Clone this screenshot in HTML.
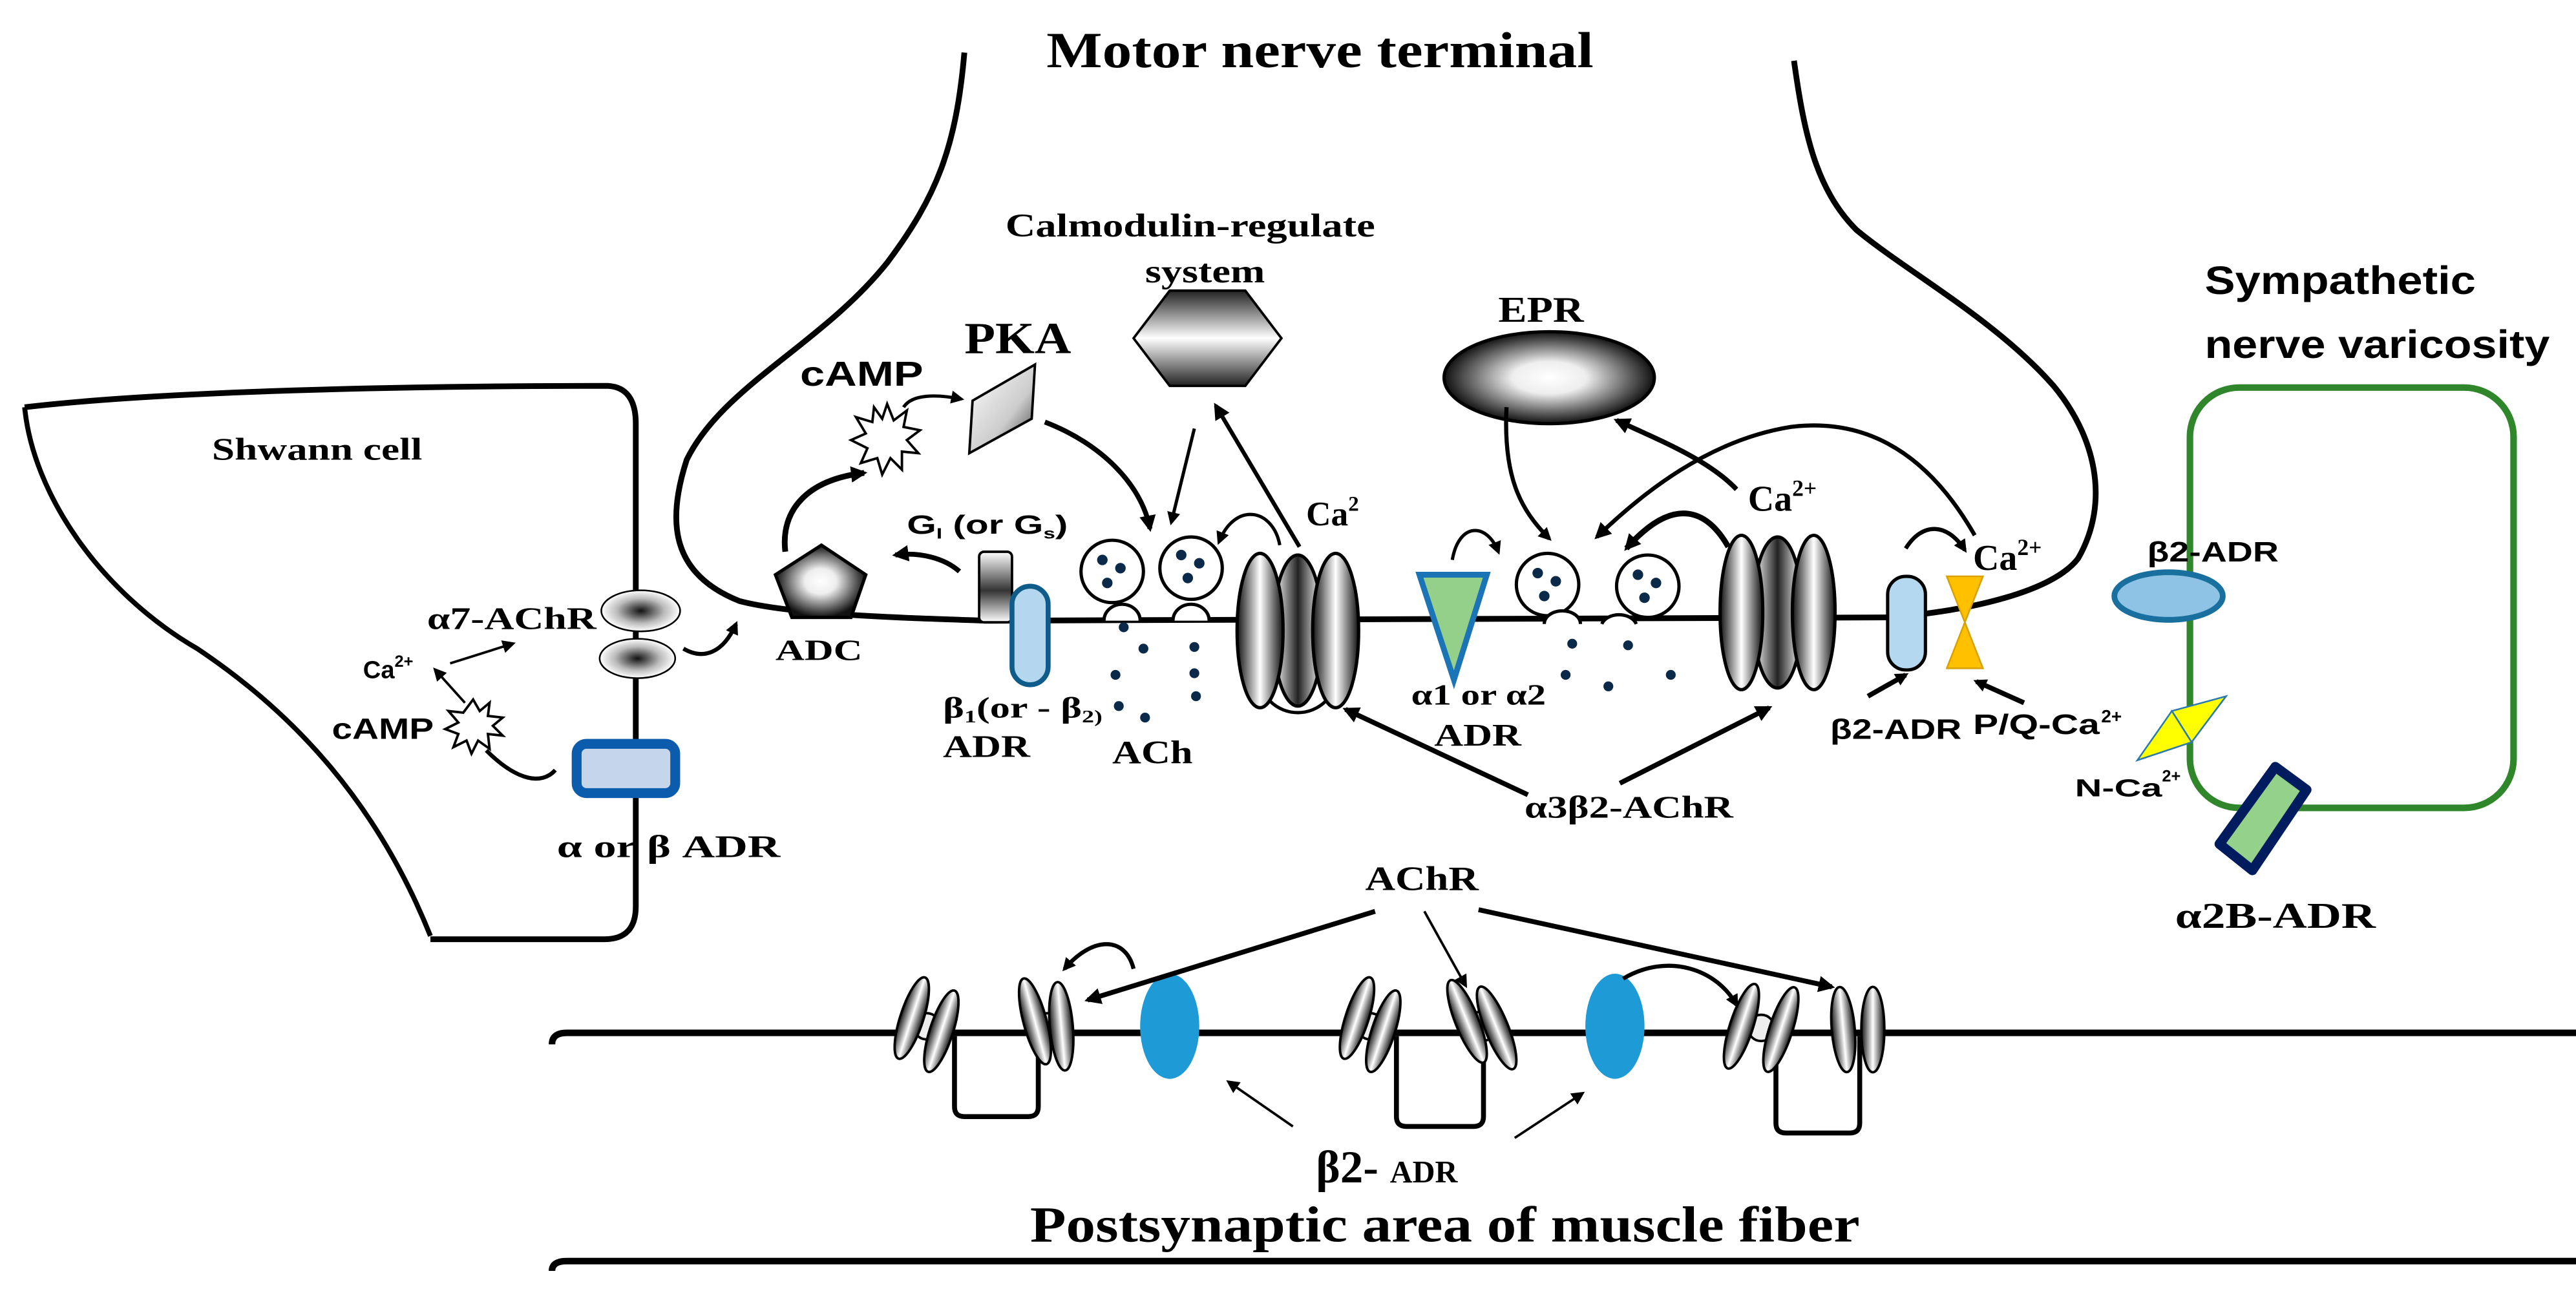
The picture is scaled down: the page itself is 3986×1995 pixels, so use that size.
<!DOCTYPE html>
<html><head><meta charset="utf-8"><style>
html,body{margin:0;padding:0;background:#fff}
svg{display:block}
.s{font-family:"Liberation Serif",serif;font-weight:bold}
.a{font-family:"Liberation Sans",sans-serif;font-weight:bold}
</style></head><body>
<svg width="3986" height="1995" viewBox="0 0 1568 785" preserveAspectRatio="none" xmlns="http://www.w3.org/2000/svg">
<defs>
<marker id="ar" markerWidth="10" markerHeight="10" refX="8" refY="5" orient="auto" markerUnits="userSpaceOnUse"><path d="M0,0 L10,5 L0,10 z" fill="#000"/></marker>
<marker id="as" markerWidth="8" markerHeight="8" refX="6" refY="4" orient="auto" markerUnits="userSpaceOnUse"><path d="M0,0 L8,4 L0,8 z" fill="#000"/></marker>
<radialGradient id="rg"><stop offset="0" stop-color="#fff"/><stop offset="0.35" stop-color="#eee"/><stop offset="1" stop-color="#111"/></radialGradient>
<radialGradient id="rd"><stop offset="0" stop-color="#111"/><stop offset="0.6" stop-color="#bbb"/><stop offset="1" stop-color="#fff"/></radialGradient>
<linearGradient id="lh" x1="0" x2="1" y1="0" y2="0"><stop offset="0" stop-color="#111"/><stop offset="0.5" stop-color="#fff"/><stop offset="1" stop-color="#111"/></linearGradient>
<linearGradient id="lm" x1="0" x2="1" y1="0" y2="0"><stop offset="0" stop-color="#fff"/><stop offset="0.5" stop-color="#222"/><stop offset="1" stop-color="#fff"/></linearGradient>
<linearGradient id="lv" x1="0" x2="0" y1="0" y2="1"><stop offset="0" stop-color="#222"/><stop offset="0.5" stop-color="#fff"/><stop offset="1" stop-color="#222"/></linearGradient>
<linearGradient id="lp" x1="0" x2="1" y1="0" y2="1"><stop offset="0" stop-color="#fff"/><stop offset="0.6" stop-color="#ccc"/><stop offset="1" stop-color="#333"/></linearGradient>
<linearGradient id="lg" x1="0" x2="0" y1="0" y2="1"><stop offset="0" stop-color="#fff"/><stop offset="0.55" stop-color="#333"/><stop offset="1" stop-color="#fff"/></linearGradient>
</defs>

<!-- Titles -->
<text class="s" x="637" y="41" font-size="31" textLength="333" lengthAdjust="spacingAndGlyphs">Motor nerve terminal</text>
<text class="s" x="627" y="756" font-size="31" textLength="505" lengthAdjust="spacingAndGlyphs">Postsynaptic area of muscle fiber</text>

<!-- Nerve terminal -->
<path d="M587,32 C582,90 570,120 540,160 C500,210 440,235 418,280 C405,320 410,350 450,366 C480,374 540,376 600,378 L1150,376 C1200,372 1250,360 1265,340 C1285,305 1275,265 1250,235 C1215,195 1160,165 1130,140 C1105,115 1098,80 1092,37" fill="none" stroke="#000" stroke-width="3.5"/>

<!-- Schwann cell -->
<path d="M15,248 C100,238 250,235 370,235 Q387,236 387,258 L387,552 Q387,572 368,572 L262,572" fill="none" stroke="#000" stroke-width="3.5"/>
<path d="M15,248 C20,300 60,360 120,395 C180,435 230,490 262,570" fill="none" stroke="#000" stroke-width="3"/>
<text class="s" x="129" y="280" font-size="19" textLength="128" lengthAdjust="spacingAndGlyphs">Shwann cell</text>
<ellipse cx="390" cy="372" rx="24" ry="12.5" fill="url(#rd)" stroke="#000" stroke-width="1"/>
<ellipse cx="388" cy="401" rx="23" ry="12" fill="url(#rd)" stroke="#000" stroke-width="1"/>
<text class="s" x="260" y="383" font-size="19" textLength="103" lengthAdjust="spacingAndGlyphs">α7-AChR</text>
<text class="a" x="221" y="413" font-size="15">Ca<tspan font-size="10" dy="-7">2+</tspan></text>
<line x1="274" y1="404" x2="312" y2="392" stroke="#000" stroke-width="1.5" marker-end="url(#as)"/>
<line x1="283" y1="428" x2="265" y2="408" stroke="#000" stroke-width="1.5" marker-end="url(#as)"/>
<text class="a" x="202" y="450" font-size="18" textLength="62" lengthAdjust="spacingAndGlyphs">cAMP</text>
<polygon points="288,426 292,433 298,428 297,436 306,437 300,442 306,448 297,447 298,456 291,451 287,459 284,451 276,455 279,447 271,444 279,440 273,433 282,434" fill="#fff" stroke="#000" stroke-width="1.5"/>
<rect x="351" y="453" width="60" height="30" rx="6" fill="#c5d5ea" stroke="#0b5cad" stroke-width="6"/>
<path d="M338,469 C330,478 315,476 296,457" fill="none" stroke="#000" stroke-width="2.5"/>
<text class="s" x="339" y="522" font-size="19" textLength="136" lengthAdjust="spacingAndGlyphs">α or  β ADR</text>
<path d="M416,395 C428,402 440,398 448,380" fill="none" stroke="#000" stroke-width="2.5" marker-end="url(#as)"/>

<!-- ADC / cAMP / PKA -->
<polygon points="500,332 527,350 518,376 482,376 472,350" fill="url(#rg)" stroke="#000" stroke-width="2"/>
<text class="s" x="472" y="402" font-size="18" textLength="53" lengthAdjust="spacingAndGlyphs">ADC</text>
<path d="M478,336 C475,310 492,292 526,288" fill="none" stroke="#000" stroke-width="3.5" marker-end="url(#ar)"/>
<text class="a" x="487" y="235" font-size="21" textLength="75" lengthAdjust="spacingAndGlyphs">cAMP</text>
<polygon points="540,246 544,256 552,250 550,260 560,262 552,268 559,276 549,275 549,286 542,279 537,289 534,279 524,282 528,273 518,268 527,264 521,254 531,257 532,248 537,255" fill="#fff" stroke="#000" stroke-width="1.5"/>
<path d="M550,248 C555,240 570,240 585,243" fill="none" stroke="#000" stroke-width="2" marker-end="url(#as)"/>
<text class="s" x="587" y="215" font-size="27" textLength="65" lengthAdjust="spacingAndGlyphs">PKA</text>
<polygon points="630,222 628,255 590,276 592,244" fill="url(#lp)" stroke="#000" stroke-width="1.5"/>
<path d="M636,257 C670,270 695,295 700,322" fill="none" stroke="#000" stroke-width="3" marker-end="url(#ar)"/>

<!-- Calmodulin -->
<text class="s" x="612" y="144" font-size="20" textLength="225" lengthAdjust="spacingAndGlyphs">Calmodulin-regulate</text>
<text class="s" x="697" y="172" font-size="20" textLength="73" lengthAdjust="spacingAndGlyphs">system</text>
<polygon points="690,206 712,177 758,177 780,206 758,235 712,235" fill="url(#lv)" stroke="#000" stroke-width="1.5"/>
<line x1="727" y1="261" x2="713" y2="318" stroke="#000" stroke-width="2" marker-end="url(#as)"/>
<line x1="791" y1="333" x2="740" y2="247" stroke="#000" stroke-width="2.5" marker-end="url(#ar)"/>

<!-- G protein & beta1 -->
<text class="a" x="552" y="325" font-size="16" textLength="98" lengthAdjust="spacingAndGlyphs">G<tspan font-size="9" dy="3">I</tspan><tspan dy="-3"> (or G</tspan><tspan font-size="9" dy="3">s</tspan><tspan dy="-3">)</tspan></text>
<path d="M584,348 C575,340 560,336 545,338" fill="none" stroke="#000" stroke-width="3" marker-end="url(#ar)"/>
<rect x="596" y="336" width="20" height="43" rx="3" fill="url(#lg)" stroke="#000" stroke-width="1.5"/>
<rect x="616" y="357" width="22" height="60" rx="11" fill="#b4d6ee" stroke="#0f5c8a" stroke-width="3"/>
<text class="s" x="574" y="437" font-size="18" textLength="97" lengthAdjust="spacingAndGlyphs">β<tspan font-size="11" dy="3">1</tspan><tspan dy="-3">(or - β</tspan><tspan font-size="11" dy="3">2)</tspan></text>
<text class="s" x="574" y="461" font-size="19" textLength="53" lengthAdjust="spacingAndGlyphs">ADR</text>

<!-- vesicles left -->
<g fill="#fff" stroke="#000" stroke-width="2">
<circle cx="677" cy="348" r="19"/><circle cx="725" cy="346" r="19"/>
<path d="M672,378 A11,10 0 0 1 694,378" /><path d="M714,378 A11,10 0 0 1 736,378"/>
<circle cx="942" cy="356" r="19"/><circle cx="1003" cy="357" r="19"/>
<path d="M940,380 A11,8 0 0 1 962,380"/><path d="M975,380 A11,8 0 0 1 996,380"/>
</g>
<g fill="#0b2a4a">
<circle cx="671" cy="341" r="3.2"/><circle cx="682" cy="346" r="3.2"/><circle cx="674" cy="355" r="3.2"/>
<circle cx="719" cy="338" r="3.2"/><circle cx="730" cy="343" r="3.2"/><circle cx="723" cy="352" r="3.2"/>
<circle cx="936" cy="349" r="3.2"/><circle cx="947" cy="354" r="3.2"/><circle cx="940" cy="363" r="3.2"/>
<circle cx="997" cy="350" r="3.2"/><circle cx="1008" cy="355" r="3.2"/><circle cx="1001" cy="364" r="3.2"/>
<circle cx="684" cy="382" r="3"/><circle cx="696" cy="395" r="3"/><circle cx="727" cy="394" r="3"/><circle cx="679" cy="411" r="3"/><circle cx="727" cy="410" r="3"/><circle cx="681" cy="430" r="3"/><circle cx="728" cy="424" r="3"/><circle cx="697" cy="437" r="3"/>
<circle cx="957" cy="392" r="3"/><circle cx="991" cy="393" r="3"/><circle cx="953" cy="411" r="3"/><circle cx="979" cy="418" r="3"/><circle cx="1017" cy="411" r="3"/>
</g>
<text class="s" x="677" y="465" font-size="20" textLength="49" lengthAdjust="spacingAndGlyphs">ACh</text>

<!-- Ca channel left -->
<circle cx="790" cy="410" r="24" fill="#fff" stroke="#000" stroke-width="2"/>
<ellipse cx="790" cy="384" rx="15" ry="46" fill="url(#lm)" stroke="#000" stroke-width="2"/>
<ellipse cx="767" cy="384" rx="14" ry="47" fill="url(#lh)" stroke="#000" stroke-width="2"/>
<ellipse cx="813" cy="384" rx="14" ry="47" fill="url(#lh)" stroke="#000" stroke-width="2"/>
<text class="s" x="795" y="320" font-size="21">Ca<tspan font-size="13" dy="-9">2</tspan></text>
<path d="M779,332 C775,310 752,305 742,330" fill="none" stroke="#000" stroke-width="2" marker-end="url(#as)"/>

<!-- green triangle -->
<polygon points="864,350 905,350 885,414" fill="#95d08b" stroke="#1a74b5" stroke-width="3.5"/>
<path d="M884,341 C888,318 905,318 912,336" fill="none" stroke="#000" stroke-width="2" marker-end="url(#as)"/>
<text class="s" x="859" y="429" font-size="18" textLength="82" lengthAdjust="spacingAndGlyphs">α1 or α2</text>
<text class="s" x="873" y="454" font-size="19" textLength="53" lengthAdjust="spacingAndGlyphs">ADR</text>

<!-- EPR -->
<text class="s" x="912" y="196" font-size="22" textLength="52" lengthAdjust="spacingAndGlyphs">EPR</text>
<ellipse cx="943" cy="230" rx="64" ry="28" fill="url(#rg)" stroke="#000" stroke-width="2"/>
<path d="M917,248 C915,290 925,310 943,328" fill="none" stroke="#000" stroke-width="2.5" marker-end="url(#as)"/>
<text class="s" x="1064" y="311" font-size="22">Ca<tspan font-size="14" dy="-9">2+</tspan></text>
<path d="M1057,298 C1040,280 1010,268 984,256" fill="none" stroke="#000" stroke-width="3" marker-end="url(#ar)"/>
<path d="M1202,326 C1170,270 1130,255 1090,260 C1040,268 1000,300 972,327" fill="none" stroke="#000" stroke-width="2.5" marker-end="url(#ar)"/>
<path d="M1052,333 C1040,312 1020,300 990,334" fill="none" stroke="#000" stroke-width="3.5" marker-end="url(#ar)"/>

<!-- Ca channel right -->
<ellipse cx="1082" cy="373" rx="15" ry="46" fill="url(#lm)" stroke="#000" stroke-width="2"/>
<ellipse cx="1060" cy="373" rx="13" ry="47" fill="url(#lh)" stroke="#000" stroke-width="2"/>
<ellipse cx="1104" cy="373" rx="13" ry="47" fill="url(#lh)" stroke="#000" stroke-width="2"/>

<!-- beta2 & P/Q -->
<rect x="1149" y="351" width="23" height="57" rx="11" fill="#b4d8f0" stroke="#000" stroke-width="2"/>
<polygon points="1185,351 1207,351 1196,379 1207,407 1185,407 1196,379" fill="#ffc000" stroke="#d9a000" stroke-width="1"/>
<text class="s" x="1201" y="347" font-size="22">Ca<tspan font-size="14" dy="-9">2+</tspan></text>
<path d="M1160,334 C1170,318 1185,318 1196,335" fill="none" stroke="#000" stroke-width="2.5" marker-end="url(#as)"/>
<line x1="1137" y1="424" x2="1160" y2="411" stroke="#000" stroke-width="3" marker-end="url(#as)"/>
<line x1="1232" y1="428" x2="1203" y2="415" stroke="#000" stroke-width="3" marker-end="url(#as)"/>
<text class="a" x="1114" y="450" font-size="17" textLength="80" lengthAdjust="spacingAndGlyphs">β2-ADR</text>
<text class="a" x="1201" y="447" font-size="17" textLength="77" lengthAdjust="spacingAndGlyphs">P/Q-Ca</text>
<text class="a" x="1279" y="440" font-size="11">2+</text>

<!-- a3b2 -->
<text class="s" x="928" y="498" font-size="19" textLength="127" lengthAdjust="spacingAndGlyphs">α3β2-AChR</text>
<line x1="930" y1="484" x2="819" y2="432" stroke="#000" stroke-width="3" marker-end="url(#ar)"/>
<line x1="986" y1="477" x2="1077" y2="431" stroke="#000" stroke-width="3" marker-end="url(#ar)"/>

<!-- Sympathetic -->
<text class="a" x="1342" y="179" font-size="24" textLength="165" lengthAdjust="spacingAndGlyphs">Sympathetic</text>
<text class="a" x="1342" y="218" font-size="24" textLength="210" lengthAdjust="spacingAndGlyphs">nerve varicosity</text>
<rect x="1333" y="236" width="197" height="256" rx="30" fill="none" stroke="#2f862b" stroke-width="4"/>
<ellipse cx="1320" cy="363" rx="33" ry="14.5" fill="#8ec3e6" stroke="#19709e" stroke-width="3.5"/>
<text class="a" x="1307" y="342" font-size="17" textLength="80" lengthAdjust="spacingAndGlyphs">β2-ADR</text>
<polygon points="1322,433 1355,424 1334,452" fill="#ffff00" stroke="#2a7ab0" stroke-width="1"/>
<polygon points="1322,433 1334,452 1301,463" fill="#ffff00" stroke="#2a7ab0" stroke-width="1"/>
<text class="a" x="1263" y="485" font-size="15" textLength="53" lengthAdjust="spacingAndGlyphs">N-Ca</text>
<text class="a" x="1316" y="476" font-size="10">2+</text>
<polygon points="1385,467 1404,481 1371,530 1351,514" fill="#94d18a" stroke="#001c5e" stroke-width="6" stroke-linejoin="round"/>
<text class="s" x="1324" y="565" font-size="22" textLength="122" lengthAdjust="spacingAndGlyphs">α2B-ADR</text>

<!-- Muscle fiber -->
<path d="M336,636 Q336,629 345,629 L1568,629" fill="none" stroke="#000" stroke-width="4"/>
<path d="M336,774 Q336,768 345,768 L1568,768" fill="none" stroke="#000" stroke-width="4"/>
<g fill="none" stroke="#000" stroke-width="3">
<path d="M581,631 L581,674 Q581,680 587,680 L626,680 Q632,680 632,674 L632,631"/>
<path d="M850,631 L850,680 Q850,686 856,686 L897,686 Q903,686 903,680 L903,631"/>
<path d="M1081,631 L1081,684 Q1081,690 1087,690 L1126,690 Q1132,690 1132,684 L1132,631"/>
</g>
<ellipse cx="712" cy="625" rx="18" ry="32" fill="#1e9bd7"/>
<ellipse cx="983" cy="625" rx="18" ry="32" fill="#1e9bd7"/>
<g stroke="#000" stroke-width="1.5" fill="url(#lh)">
<circle cx="564" cy="625" r="8" fill="#eee"/>
<ellipse cx="555" cy="620" rx="7" ry="26" transform="rotate(18 555 620)"/>
<ellipse cx="573" cy="628" rx="7" ry="26" transform="rotate(18 573 628)"/>
<circle cx="638" cy="625" r="8" fill="#eee"/>
<ellipse cx="630" cy="622" rx="7" ry="27" transform="rotate(-15 630 622)"/>
<ellipse cx="646" cy="625" rx="7" ry="27" transform="rotate(-5 646 625)"/>
<circle cx="834" cy="625" r="8" fill="#eee"/>
<ellipse cx="826" cy="620" rx="7" ry="26" transform="rotate(18 826 620)"/>
<ellipse cx="842" cy="628" rx="7" ry="26" transform="rotate(18 842 628)"/>
<circle cx="902" cy="625" r="9" fill="#eee"/>
<ellipse cx="893" cy="622" rx="7" ry="27" transform="rotate(-22 893 622)"/>
<ellipse cx="911" cy="626" rx="7" ry="27" transform="rotate(-22 911 626)"/>
<circle cx="1072" cy="626" r="8" fill="#eee"/>
<ellipse cx="1060" cy="625" rx="7" ry="27" transform="rotate(18 1060 625)"/>
<ellipse cx="1084" cy="627" rx="7" ry="27" transform="rotate(18 1084 627)"/>
<ellipse cx="1122" cy="627" rx="7" ry="26" transform="rotate(-5 1122 627)"/>
<ellipse cx="1140" cy="627" rx="7" ry="26"/>
</g>
<text class="s" x="831" y="542" font-size="21" textLength="69" lengthAdjust="spacingAndGlyphs">AChR</text>
<line x1="837" y1="555" x2="662" y2="609" stroke="#000" stroke-width="3" marker-end="url(#ar)"/>
<line x1="867" y1="555" x2="892" y2="600" stroke="#000" stroke-width="1.5" marker-end="url(#as)"/>
<line x1="900" y1="554" x2="1115" y2="601" stroke="#000" stroke-width="3" marker-end="url(#ar)"/>
<path d="M690,590 C685,570 665,570 648,590" fill="none" stroke="#000" stroke-width="2.5" marker-end="url(#as)"/>
<path d="M988,596 C1015,580 1045,590 1057,612" fill="none" stroke="#000" stroke-width="2.5" marker-end="url(#as)"/>
<text class="s" x="801" y="720" font-size="28">β2- <tspan font-size="19">ADR</tspan></text>
<line x1="787" y1="686" x2="748" y2="659" stroke="#000" stroke-width="1.5" marker-end="url(#as)"/>
<line x1="922" y1="693" x2="963" y2="666" stroke="#000" stroke-width="1.5" marker-end="url(#as)"/>
</svg>
</body></html>
